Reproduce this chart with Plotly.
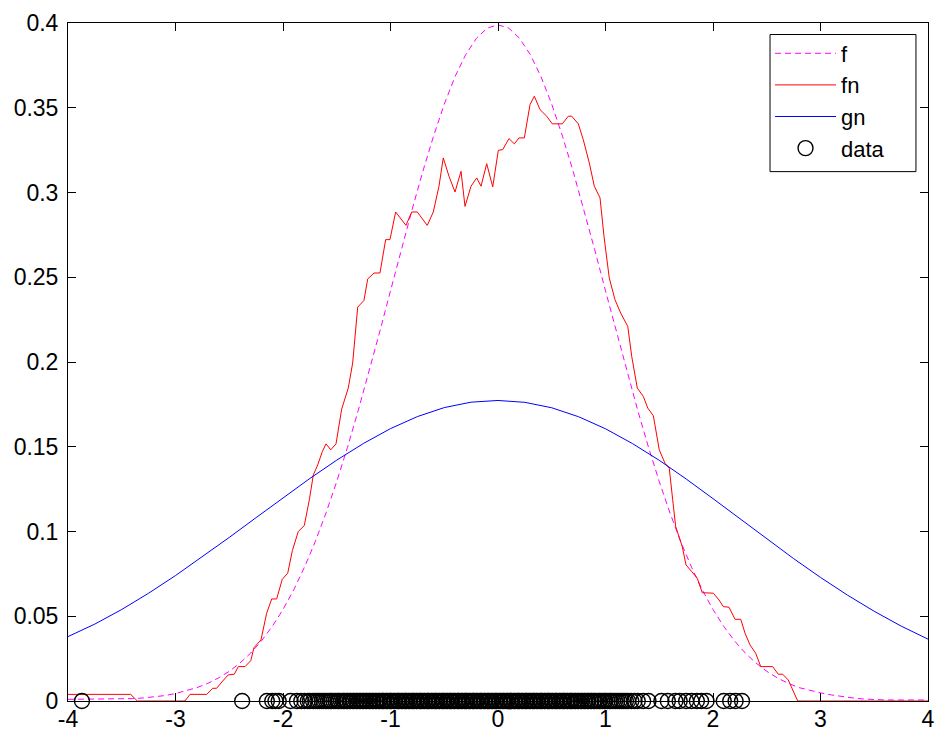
import plotly.graph_objects as go

# ---- data ----
f_x = [round(-4 + 0.1 * i, 1) for i in range(81)]
f_y = [0.0010, 0.0010, 0.0010, 0.0010, 0.0010, 0.0011, 0.0014, 0.0018, 0.0024, 0.0032,
       0.0044, 0.0060, 0.0079, 0.0104, 0.0136, 0.0175, 0.0224, 0.0283, 0.0355, 0.0440,
       0.0540, 0.0656, 0.0790, 0.0940, 0.1109, 0.1295, 0.1497, 0.1714, 0.1942, 0.2179,
       0.2420, 0.2661, 0.2897, 0.3123, 0.3332, 0.3521, 0.3683, 0.3814, 0.3910, 0.3970,
       0.3989,
       0.3970, 0.3910, 0.3814, 0.3683, 0.3521, 0.3332, 0.3123, 0.2897, 0.2661, 0.2420,
       0.2179, 0.1942, 0.1714, 0.1497, 0.1295, 0.1109, 0.0940, 0.0790, 0.0656, 0.0540,
       0.0440, 0.0355, 0.0283, 0.0224, 0.0175, 0.0136, 0.0104, 0.0079, 0.0062, 0.0048,
       0.0036, 0.0026, 0.0018, 0.0012, 0.0008, 0.0006, 0.0006, 0.0006, 0.0006, 0.0006]

fn_x = [-4.0, -3.417, -3.355, -2.912, -2.865, -2.710, -2.654, -2.617, -2.561, -2.509,
        -2.453, -2.416, -2.353, -2.300, -2.270, -2.205, -2.152, -2.105, -2.059, -2.007,
        -1.956, -1.913, -1.858, -1.802, -1.755, -1.718, -1.677, -1.634, -1.600, -1.556,
        -1.507, -1.454, -1.393, -1.352, -1.305, -1.247, -1.212, -1.153, -1.098, -1.045,
        -1.005, -0.952, -0.856, -0.803, -0.751, -0.658, -0.602, -0.549, -0.509, -0.456,
        -0.400, -0.344, -0.307, -0.251, -0.198, -0.158, -0.105, -0.049, 0.003, 0.044,
        0.102, 0.152, 0.195, 0.245, 0.298, 0.338, 0.391, 0.453, 0.505, 0.598,
        0.654, 0.686, 0.747, 0.793, 0.849, 0.896, 0.949, 0.986, 1.035, 1.088,
        1.141, 1.207, 1.244, 1.296, 1.352, 1.393, 1.445, 1.500, 1.553, 1.593,
        1.625, 1.653, 1.714, 1.749, 1.802, 1.854, 1.900, 2.003, 2.056, 2.096,
        2.149, 2.205, 2.258, 2.298, 2.344, 2.397, 2.444, 2.555, 2.607, 2.648,
        2.700, 2.788, 4.0]
fn_y = [0.0039, 0.0039, 0.0, 0.0, 0.0039, 0.0039, 0.0075, 0.0075, 0.0118, 0.0154,
        0.0158, 0.0203, 0.0203, 0.0238, 0.0315, 0.0360, 0.0518, 0.0602, 0.0602, 0.0718,
        0.0754, 0.0887, 0.1000, 0.1035, 0.1187, 0.1334, 0.1393, 0.1472, 0.1517, 0.1482,
        0.1517, 0.1723, 0.1846, 0.1994, 0.2324, 0.2363, 0.2490, 0.2525, 0.2525, 0.2722,
        0.2722, 0.2885, 0.2806, 0.2885, 0.2885, 0.2806, 0.2885, 0.3037, 0.3204, 0.3096,
        0.3003, 0.3125, 0.2918, 0.3037, 0.3086, 0.3037, 0.3170, 0.3033, 0.3249, 0.3253,
        0.3318, 0.3287, 0.3322, 0.3322, 0.3519, 0.3568, 0.3489, 0.3450, 0.3405, 0.3405,
        0.3450, 0.3450, 0.3405, 0.3312, 0.3175, 0.3037, 0.2968, 0.2741, 0.2496, 0.2368,
        0.2289, 0.2210, 0.2033, 0.1846, 0.1797, 0.1728, 0.1683, 0.1482, 0.1403, 0.1374,
        0.1187, 0.1029, 0.0911, 0.0803, 0.0763, 0.0724, 0.0639, 0.0636, 0.0596, 0.0557,
        0.0553, 0.0482, 0.0482, 0.0400, 0.0331, 0.0282, 0.0203, 0.0203, 0.0158, 0.0158,
        0.0124, 0.0, 0.0]

gn_x = [round(-4 + 0.25 * i, 2) for i in range(33)]
gn_y = [0.0380, 0.0454, 0.0540, 0.0636, 0.0740, 0.0850, 0.0965, 0.1082, 0.1198, 0.1313,
        0.1421, 0.1520, 0.1607, 0.1678, 0.1731, 0.1763, 0.1773,
        0.1762, 0.1730, 0.1677, 0.1606, 0.1519, 0.1420, 0.1310, 0.1194, 0.1075, 0.0956,
        0.0840, 0.0729, 0.0625, 0.0529, 0.0442, 0.0365]

data_x = [-3.87, -2.38, -2.15, -2.10, -2.07, -2.04, -1.93, -1.87, -1.83, -1.80, -1.77,
          -1.75, -1.72, -1.70, -1.68, -1.66, -1.64, -1.62, -1.60, -1.58, -1.56, -1.55,
          -1.53, -1.51, -1.49, -1.48, -1.46, -1.44, -1.43, -1.41, -1.40, -1.38, -1.37,
          -1.35, -1.34, -1.32, -1.31, -1.29, -1.28, -1.26, -1.25, -1.23, -1.22, -1.20,
          -1.19, -1.17, -1.16, -1.14, -1.13, -1.11, -1.10, -1.08, -1.07, -1.06, -1.04,
          -1.03, -1.01, -1.00, -0.99, -0.97, -0.96, -0.94, -0.93, -0.92, -0.90, -0.89,
          -0.87, -0.86, -0.85, -0.83, -0.82, -0.80, -0.79, -0.78, -0.76, -0.75, -0.73,
          -0.72, -0.71, -0.69, -0.68, -0.66, -0.65, -0.64, -0.62, -0.61, -0.59, -0.58,
          -0.57, -0.55, -0.54, -0.52, -0.51, -0.50, -0.48, -0.47, -0.45, -0.44, -0.43,
          -0.41, -0.40, -0.38, -0.37, -0.36, -0.34, -0.33, -0.31, -0.30, -0.29, -0.27,
          -0.26, -0.24, -0.23, -0.22, -0.20, -0.19, -0.17, -0.16, -0.15, -0.13, -0.12,
          -0.10, -0.09, -0.08, -0.06, -0.05, -0.03, -0.02, -0.01, 0.01, 0.02, 0.04,
          0.05, 0.06, 0.08, 0.09, 0.11, 0.12, 0.13, 0.15, 0.16, 0.18, 0.19, 0.20, 0.22,
          0.23, 0.25, 0.26, 0.27, 0.29, 0.30, 0.32, 0.33, 0.34, 0.36, 0.37, 0.39, 0.40,
          0.41, 0.43, 0.44, 0.46, 0.47, 0.48, 0.50, 0.51, 0.53, 0.54, 0.55, 0.57, 0.58,
          0.60, 0.61, 0.62, 0.64, 0.65, 0.67, 0.68, 0.69, 0.71, 0.72, 0.74, 0.75, 0.77,
          0.78, 0.80, 0.81, 0.83, 0.84, 0.86, 0.87, 0.89, 0.90, 0.92, 0.94, 0.95, 0.97,
          0.99, 1.00, 1.02, 1.04, 1.05, 1.07, 1.09, 1.11, 1.13, 1.15, 1.17, 1.19, 1.21,
          1.24, 1.27, 1.30, 1.35, 1.40, 1.52, 1.58, 1.65, 1.69, 1.75, 1.80, 1.85,
          1.89, 1.94, 2.10, 2.16, 2.21, 2.27]
data_y = [0.0] * len(data_x)

x_ticks = [-4, -3, -2, -1, 0, 1, 2, 3, 4]
x_tick_labels = ["-4", "-3", "-2", "-1", "0", "1", "2", "3", "4"]
y_ticks = [0, 0.05, 0.1, 0.15, 0.2, 0.25, 0.3, 0.35, 0.4]
y_tick_labels = ["0", "0.05", "0.1", "0.15", "0.2", "0.25", "0.3", "0.35", "0.4"]

FONT = "Arial, 'Liberation Sans', Helvetica, sans-serif"

fig = go.Figure()
fig.add_trace(go.Scatter(x=f_x, y=f_y, mode="lines", name="f",
                         line=dict(color="#FF00FF", width=1, dash="6px,4px")))
fig.add_trace(go.Scatter(x=fn_x, y=fn_y, mode="lines", name="fn",
                         line=dict(color="#FF0000", width=1)))
fig.add_trace(go.Scatter(x=gn_x, y=gn_y, mode="lines", name="gn",
                         line=dict(color="#0000FF", width=1)))
fig.add_trace(go.Scatter(x=data_x, y=data_y, mode="markers", name="data",
                         marker=dict(symbol="circle-open", size=15, color="black",
                                     line=dict(width=1.4, color="black")),
                         cliponaxis=False))

axis_common = dict(showgrid=False, zeroline=False, showline=True, linecolor="black",
                   linewidth=1, mirror="ticks", ticks="inside", ticklen=8,
                   tickcolor="black", tickwidth=1,
                   tickfont=dict(family=FONT, size=23, color="black"))

# legend frame (paper coordinates)
LEG_X0, LEG_X1, LEG_Y0, LEG_Y1 = 0.8163, 0.986, 0.7808, 0.983

fig.update_layout(
    width=937, height=733,
    margin=dict(l=68, r=9, t=23, b=32, autoexpand=False),
    paper_bgcolor="white", plot_bgcolor="white",
    showlegend=True,
    shapes=[dict(type="rect", xref="paper", yref="paper", layer="above",
                 x0=LEG_X0, x1=LEG_X1, y0=LEG_Y0, y1=LEG_Y1,
                 line=dict(color="black", width=1), fillcolor="white")],
    legend=dict(x=LEG_X0, y=LEG_Y1 + 0.003, xanchor="left", yanchor="top",
                bgcolor="rgba(0,0,0,0)", borderwidth=0,
                font=dict(family=FONT, size=22, color="black"),
                itemwidth=61),
    xaxis=dict(range=[-4, 4], tickvals=x_ticks, ticktext=x_tick_labels,
               ticklabelstandoff=-3, **axis_common),
    yaxis=dict(range=[0, 0.4], tickvals=y_ticks, ticktext=y_tick_labels,
               ticklabelstandoff=4, **axis_common),
)

fig.write_html("out.html", config={"displayModeBar": False},
               post_script="document.body.style.margin='0px';")
